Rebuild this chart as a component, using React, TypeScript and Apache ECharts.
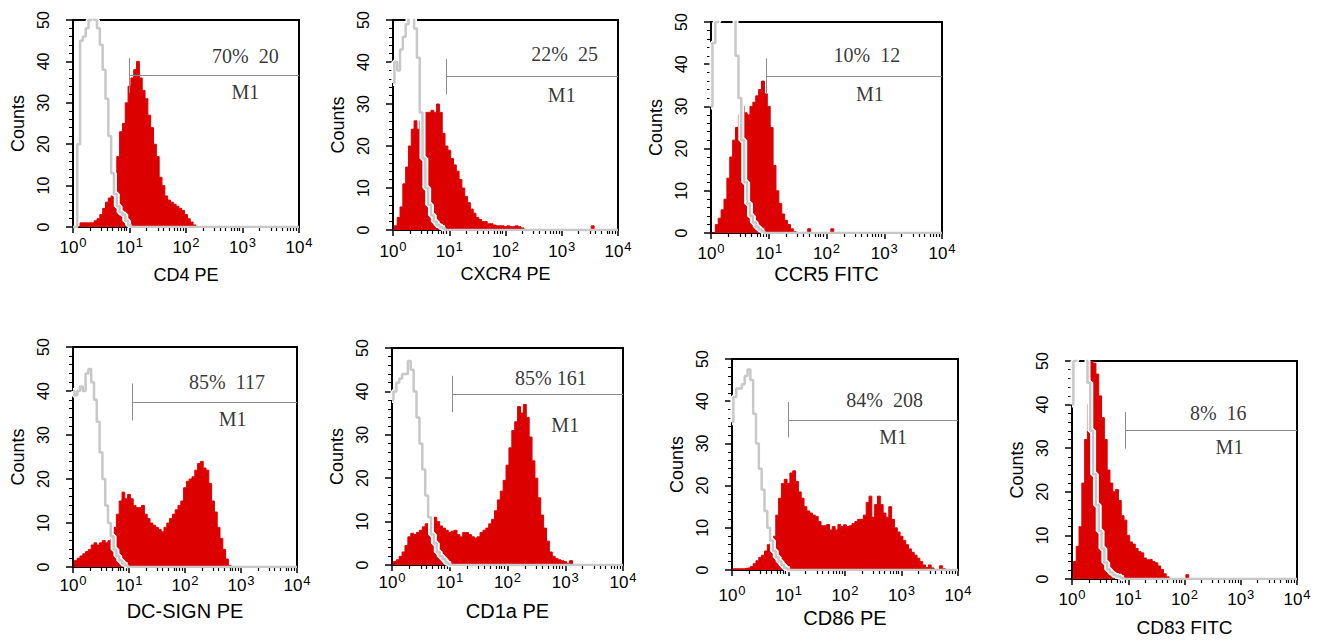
import { useEffect, useRef } from "react";
import * as echarts from "echarts";

// ---------- axis definition: 20 log channels per decade, 10^0 .. 10^4 ----------
const CHANNELS_PER_DECADE = 20;
const BIN_INDEX = Array.from({ length: CHANNELS_PER_DECADE * 4 + 1 }, (_, i) => i);
const DECADE_EXPONENTS = ["0", "1", "2", "3", "4"];
const MINOR_TICK_VALUES = [
  2, 3, 4, 5, 6, 7, 8, 9,
  20, 30, 40, 50, 60, 70, 80, 90,
  200, 300, 400, 500, 600, 700, 800, 900,
  2000, 3000, 4000, 5000, 6000, 7000, 8000, 9000,
];
const Y_TICKS = [0, 10, 20, 30, 40, 50];

// ---------- panel texts ----------
const AXIS_NAMES = ["CD4 PE", "CXCR4 PE", "CCR5 FITC", "DC-SIGN PE", "CD1a PE", "CD86 PE", "CD83 FITC"];
const GATE_TEXT = ["70%  20", "22%  25", "10%  12", "85%  117", "85% 161", "84%  208", "8%  16"];
const GATE_NAME = "M1";
const GATE_START = [20, 19, 19, 21, 21, 20, 19];
const GATE_LEVEL = [36.6, 36.5, 37.2, 37.5, 39.4, 35.6, 34.1];

// ---------- histogram counts (stained = red, control = grey), bins 0..80 ----------
const RED_CD4 = [
  0, 0, 0, 1, 1, 1, 1, 1, 1.5, 2, 3, 4.5, 6, 7, 7.5, 10, 17, 23, 25, 30,
  34, 36, 38, 40, 36, 33, 31, 27, 24, 20, 17, 12, 10, 7.5, 6.5, 6, 5.5, 5, 4.5, 4,
  3, 2, 1.2, 0.5, 0, 0, 0, 0, 0, 0, 0, 0, 0, 0, 0, 0, 0, 0, 0, 0,
  0, 0, 0, 0, 0, 0, 0, 0, 0, 0, 0, 0, 0, 0, 0, 0, 0, 0, 0, 0, 0,
];
const GREY_CD4 = [
  0, 0, 20, 45, 46, 48, 50, 51, 50, 48, 44, 38, 31, 22, 13, 8, 5, 3.5, 3, 1.5,
  0.5, 0, 0, 0, 0, 0, 0, 0, 0, 0, 0, 0, 0, 0, 0, 0, 0, 0, 0, 0,
  0, 0, 0, 0, 0, 0, 0, 0, 0, 0, 0, 0, 0, 0, 0, 0, 0, 0, 0, 0,
  0, 0, 0, 0, 0, 0, 0, 0, 0, 0, 0, 0, 0, 0, 0, 0, 0, 0, 0, 0, 0,
];
const RED_CXCR4 = [
  0, 1, 3, 5.5, 11, 15, 20, 24, 26, 24, 26, 27.5, 28, 28, 28.5, 28, 30, 28, 23, 20,
  19, 17, 15.5, 14, 12, 10, 8, 6.5, 5, 4, 3, 2.5, 2, 2, 1.5, 1.5, 1.2, 1, 1, 1,
  0.8, 1, 0.8, 0.8, 1, 0.8, 0.5, 0, 0, 0, 0, 0, 0, 0, 0, 0, 0, 0, 0, 0,
  0, 0, 0, 0, 0, 0, 0, 0, 0, 0, 0, 1, 0, 0, 0, 0, 0, 0, 0, 0, 0,
];
const GREY_CXCR4 = [
  35, 40, 38, 43, 46, 49, 51, 51, 48, 41, 28, 17, 10, 6, 3.5, 2, 1.2, 0.8, 0.4, 0,
  0, 0, 0, 0, 0, 0, 0, 0, 0, 0, 0, 0, 0, 0, 0, 0, 0, 0, 0, 0,
  0, 0, 0, 0, 0, 0, 0, 0, 0, 0, 0, 0, 0, 0, 0, 0, 0, 0, 0, 0,
  0, 0, 0, 0, 0, 0, 0, 0, 0, 0, 0, 0, 0, 0, 0, 0, 0, 0, 0, 0, 0,
];
const RED_CCR5 = [
  0, 0, 2, 3.5, 5.5, 8, 13, 18, 22, 25, 28, 30, 28.5, 28, 30, 31, 32.5, 34, 36, 33,
  30, 25, 16, 10, 7, 4.5, 3, 2, 1, 0.3, 0, 0, 0, 0, 1, 0, 0, 0, 0, 0,
  0, 0, 1, 0, 0, 0, 0, 0, 0, 0, 0, 0, 0, 0, 0, 0, 0, 0, 0, 0,
  0, 0, 0, 0, 0, 0, 0, 0, 0, 0, 0, 0, 0, 0, 0, 0, 0, 0, 0, 0, 0,
];
const GREY_CCR5 = [
  30, 45, 50, 55, 55, 55, 55, 55, 52, 42, 32, 22, 12, 7, 4, 2.5, 1.5, 0.8, 0.4, 0,
  0, 0, 0, 0, 0, 0, 0, 0, 0, 0, 0, 0, 0, 0, 0, 0, 0, 0, 0, 0,
  0, 0, 0, 0, 0, 0, 0, 0, 0, 0, 0, 0, 0, 0, 0, 0, 0, 0, 0, 0,
  0, 0, 0, 0, 0, 0, 0, 0, 0, 0, 0, 0, 0, 0, 0, 0, 0, 0, 0, 0, 0,
];
const RED_DCSIGN = [
  0, 1.5, 2, 2.5, 3, 3.5, 4, 5, 5.5, 5, 5.5, 6, 5.5, 6, 7, 9, 12, 15, 17, 15.5,
  16.5, 15.5, 14, 13.5, 13.5, 14, 12, 11, 10, 9.5, 9, 8.5, 8, 9, 10, 11, 12, 13, 14, 15,
  18, 19.5, 20, 20.5, 22, 23.5, 24, 22.5, 22, 19, 15, 12.5, 9, 6.5, 4, 1.8, 0.3, 0, 0, 0,
  0, 0, 0, 0, 0, 0, 0, 0, 0, 0, 0, 0, 0, 0, 0, 0, 0, 0, 0, 0, 0,
];
const GREY_DCSIGN = [
  40, 39, 40, 41, 40, 44, 45, 42, 38, 33, 26, 20, 14, 10, 7, 4, 2.5, 1.5, 0.8, 0.4,
  0, 0, 0, 0, 0, 0, 0, 0, 0, 0, 0, 0, 0, 0, 0, 0, 0, 0, 0, 0,
  0, 0, 0, 0, 0, 0, 0, 0, 0, 0, 0, 0, 0, 0, 0, 0, 0, 0, 0, 0,
  0, 0, 0, 0, 0, 0, 0, 0, 0, 0, 0, 0, 0, 0, 0, 0, 0, 0, 0, 0, 0,
];
const RED_CD1A = [
  0, 0.8, 1.2, 2, 3, 4.5, 6.5, 7.3, 7, 7.5, 8, 8.8, 9.5, 9, 10, 11, 10, 9, 8.5, 8,
  7.5, 7.8, 8, 7, 6.5, 7.5, 7.5, 7, 6.5, 6.2, 6.5, 7.5, 8, 8.5, 9.5, 10.5, 12.5, 15, 17, 19.5,
  23, 27, 31, 33, 36.5, 35, 37, 34, 29.5, 24, 20, 15.5, 11.5, 8.5, 5.5, 3, 2, 1.5, 1.2, 1,
  0.8, 0.3, 1, 0, 0, 0, 0, 0, 0, 0, 0, 0, 0, 0, 0, 0, 0, 0, 0, 0, 0,
];
const GREY_CD1A = [
  38, 40, 42, 43, 44, 44, 47, 45, 40, 34, 28, 22, 16, 11, 7, 5, 3, 2, 1.3, 0.6,
  0.2, 0, 0, 0, 0, 0, 0, 0, 0, 0, 0, 0, 0, 0, 0, 0, 0, 0, 0, 0,
  0, 0, 0, 0, 0, 0, 0, 0, 0, 0, 0, 0, 0, 0, 0, 0, 0, 0, 0, 0,
  0, 0, 0, 0, 0, 0, 0, 0, 0, 0, 0, 0, 0, 0, 0, 0, 0, 0, 0, 0, 0,
];
const RED_CD86 = [
  0, 0.3, 0.3, 0.3, 0.3, 0.4, 0.5, 0.8, 1.5, 2.2, 3, 3.5, 4.5, 6, 6.5, 8, 13, 17, 20.5, 21.5,
  20.5, 23, 23.5, 21, 18.5, 17, 15, 14, 13.5, 13, 12.7, 11.5, 10.5, 10.5, 10.8, 9.5, 10.3, 9.5, 10.8, 10.3,
  10.7, 10.3, 10.5, 11, 11.5, 12, 12, 13, 16, 17.5, 12.5, 15.5, 17.5, 15.5, 13.5, 12.5, 15, 12, 10, 9,
  8, 7, 6, 5, 4.2, 3.5, 2.8, 2, 1.2, 0.6, 1.2, 0.5, 0, 0, 1, 0.3, 0, 0, 0, 0, 0,
];
const GREY_CD86 = [
  35, 41, 43, 43, 44, 46, 47.5, 45, 37, 30, 24, 19, 14, 10, 7, 4.5, 3, 2, 1.2, 0.5,
  0.2, 0, 0, 0, 0, 0, 0, 0, 0, 0, 0, 0, 0, 0, 0, 0, 0, 0, 0, 0,
  0, 0, 0, 0, 0, 0, 0, 0, 0, 0, 0, 0, 0, 0, 0, 0, 0, 0, 0, 0,
  0, 0, 0, 0, 0, 0, 0, 0, 0, 0, 0, 0, 0, 0, 0, 0, 0, 0, 0, 0, 0,
];
const RED_CD83 = [
  0, 4, 7.5, 12, 22, 32, 40, 50, 49.5, 47, 42, 37, 32, 25, 22, 20, 20.5, 18, 14.5, 13.5,
  10, 8.5, 8, 7, 6.3, 6, 4.8, 4.4, 4.5, 4, 3.7, 3, 2.2, 1.2, 0.5, 0, 0, 0, 0, 0,
  0, 1, 0, 0, 0, 0, 0, 0, 0, 0, 0, 0, 0, 0, 0, 0, 0, 0, 0, 0,
  0, 0, 0, 0, 0, 0, 0, 0, 0, 0, 0, 0, 0, 0, 0, 0, 0, 0, 0, 0, 0,
];
const GREY_CD83 = [
  40, 50, 52, 53, 53, 52, 45, 34, 24, 17, 11, 7, 3.8, 2.2, 1.5, 1, 0.7, 0.5, 0.2, 0,
  0, 0, 0, 0, 0, 0, 0, 0, 0, 0, 0, 0, 0, 0, 0, 0, 0, 0, 0, 0,
  0, 0, 0, 0, 0, 0, 0, 0, 0, 0, 0, 0, 0, 0, 0, 0, 0, 0, 0, 0,
  0, 0, 0, 0, 0, 0, 0, 0, 0, 0, 0, 0, 0, 0, 0, 0, 0, 0, 0, 0, 0,
];

const RED_SERIES = [RED_CD4, RED_CXCR4, RED_CCR5, RED_DCSIGN, RED_CD1A, RED_CD86, RED_CD83];
const GREY_SERIES = [GREY_CD4, GREY_CXCR4, GREY_CCR5, GREY_DCSIGN, GREY_CD1A, GREY_CD86, GREY_CD83];

// ---------- layout (pixels) and text placement (in axis units) ----------
const LAYOUT = [
  { left: 73, top: 20, width: 226, height: 207, nameGap: 39, nameSize: 18, labelMargin: 9 },
  { left: 393, top: 20, width: 225, height: 210, nameGap: 35, nameSize: 18, labelMargin: 10 },
  { left: 711, top: 22, width: 231, height: 211, nameGap: 31, nameSize: 20, labelMargin: 9 },
  { left: 73, top: 347, width: 224, height: 220, nameGap: 34, nameSize: 20, labelMargin: 7 },
  { left: 392, top: 348, width: 231, height: 217, nameGap: 36, nameSize: 20, labelMargin: 6 },
  { left: 732, top: 359, width: 226, height: 211, nameGap: 38, nameSize: 20, labelMargin: 14 },
  { left: 1072, top: 361, width: 225, height: 218, nameGap: 39, nameSize: 19, labelMargin: 9 },
];
const PCT_POS = [[61, 41.3], [61, 41.9], [54, 42.1], [55, 42.1], [55, 43.1], [54, 40.2], [52, 38]];
const M1_POS = [[61, 32.5], [60, 32.1], [55, 33], [57, 33.6], [60, 32.3], [57, 31.5], [56, 30.2]];
const GATE_HALF = 4.2;

function buildOption() {
  const minorSet = new Set(
    MINOR_TICK_VALUES.map((v) => Math.round(Math.log10(v) * CHANNELS_PER_DECADE))
  );
  const lastBin = BIN_INDEX.length - 1;
  const grid: any[] = [];
  const xAxis: any[] = [];
  const yAxis: any[] = [];
  const series: any[] = [];

  LAYOUT.forEach((L, k) => {
    grid.push({
      left: L.left,
      top: L.top,
      width: L.width,
      height: L.height,
      show: true,
      borderColor: "#000",
      borderWidth: 2,
    });
    xAxis.push({
      type: "category",
      gridIndex: k,
      position: "bottom",
      data: BIN_INDEX,
      boundaryGap: false,
      axisLine: { show: true, lineStyle: { color: "#000", width: 1.5 } },
      axisTick: {
        show: true,
        interval: (i: number) => i % CHANNELS_PER_DECADE === 0,
        length: 6,
        lineStyle: { color: "#000", width: 1.5 },
      },
      axisLabel: {
        show: true,
        interval: (i: number) => i % CHANNELS_PER_DECADE === 0,
        margin: L.labelMargin,
        color: "#000",
        formatter: (_v: any, i: number) =>
          `{b|10}{e|${DECADE_EXPONENTS[Math.round(i / CHANNELS_PER_DECADE)]}}`,
        rich: {
          b: { fontSize: 17, fontFamily: "Arial", color: "#000" },
          e: {
            fontSize: 13,
            fontFamily: "Arial",
            color: "#000",
            verticalAlign: "top",
            padding: [0, 0, 10, 1],
          },
        },
      },
      splitLine: { show: false },
      name: AXIS_NAMES[k],
      nameLocation: "middle",
      nameGap: L.nameGap,
      nameTextStyle: { fontSize: L.nameSize, fontFamily: "Arial", color: "#000" },
    });
    xAxis.push({
      type: "category",
      gridIndex: k,
      position: "bottom",
      data: BIN_INDEX,
      boundaryGap: false,
      axisLine: { show: false },
      axisTick: {
        show: true,
        interval: (i: number) => minorSet.has(i),
        length: 4,
        lineStyle: { color: "#000", width: 1.2 },
      },
      axisLabel: { show: false },
      splitLine: { show: false },
    });
    yAxis.push({
      type: "value",
      gridIndex: k,
      min: Y_TICKS[0],
      max: Y_TICKS[Y_TICKS.length - 1],
      interval: Y_TICKS[1] - Y_TICKS[0],
      axisLine: { show: true, lineStyle: { color: "#000", width: 2 } },
      axisTick: { show: true, length: 7, lineStyle: { color: "#000", width: 1.5 } },
      minorTick: { show: true, splitNumber: 5, length: 4, lineStyle: { color: "#000", width: 1 } },
      axisLabel: { rotate: 90, fontSize: 16, fontFamily: "Arial", color: "#000", margin: 22 },
      splitLine: { show: false },
      name: "Counts",
      nameLocation: "middle",
      nameGap: 46,
      nameTextStyle: { fontSize: 18, fontFamily: "Arial", color: "#000" },
    });

    const xi = 2 * k;
    const lvl = GATE_LEVEL[k];
    const gs = GATE_START[k];
    series.push({
      type: "line",
      xAxisIndex: xi,
      yAxisIndex: k,
      data: RED_SERIES[k],
      step: "middle",
      symbol: "none",
      silent: true,
      z: 2,
      lineStyle: { color: "#dc0000", width: 1 },
      areaStyle: { color: "#dc0000", opacity: 1 },
      markLine: {
        silent: true,
        symbol: ["none", "none"],
        label: { show: false },
        lineStyle: { color: "#8c8c8c", width: 1, type: "solid" },
        data: [
          [{ coord: [gs, lvl] }, { coord: [lastBin, lvl] }],
          [{ coord: [gs, lvl - GATE_HALF] }, { coord: [gs, lvl + GATE_HALF] }],
        ],
      },
    });
    series.push({
      type: "line",
      xAxisIndex: xi,
      yAxisIndex: k,
      data: GREY_SERIES[k].map((v) => (v > 0 ? v : null)),
      step: "middle",
      symbol: "none",
      silent: true,
      z: 3,
      lineStyle: { color: "#ffffff", width: 6 },
    });
    series.push({
      type: "line",
      xAxisIndex: xi,
      yAxisIndex: k,
      data: GREY_SERIES[k],
      step: "middle",
      symbol: "none",
      silent: true,
      z: 4,
      lineStyle: { color: "#c8c8c8", width: 2.5 },
    });
    series.push({
      type: "scatter",
      xAxisIndex: xi,
      yAxisIndex: k,
      silent: true,
      symbolSize: 1,
      itemStyle: { color: "rgba(0,0,0,0)" },
      z: 5,
      data: [
        { name: GATE_TEXT[k], value: PCT_POS[k] },
        { name: GATE_NAME, value: M1_POS[k] },
      ],
      label: {
        show: true,
        position: "inside",
        formatter: "{b}",
        fontSize: 20,
        fontFamily: "Times New Roman",
        color: "#000",
      },
    });
  });

  return {
    animation: false,
    backgroundColor: "#ffffff",
    grid,
    xAxis,
    yAxis,
    series,
  };
}

export default function App() {
  const ref = useRef<HTMLDivElement>(null);
  useEffect(() => {
    if (!ref.current) return;
    const chart = echarts.init(ref.current, null, { renderer: "svg" });
    chart.setOption(buildOption() as any);
    return () => chart.dispose();
  }, []);
  return (
    <div
      ref={ref}
      style={{ position: "absolute", left: 0, top: 0, width: 1320, height: 642, background: "#fff" }}
    />
  );
}
